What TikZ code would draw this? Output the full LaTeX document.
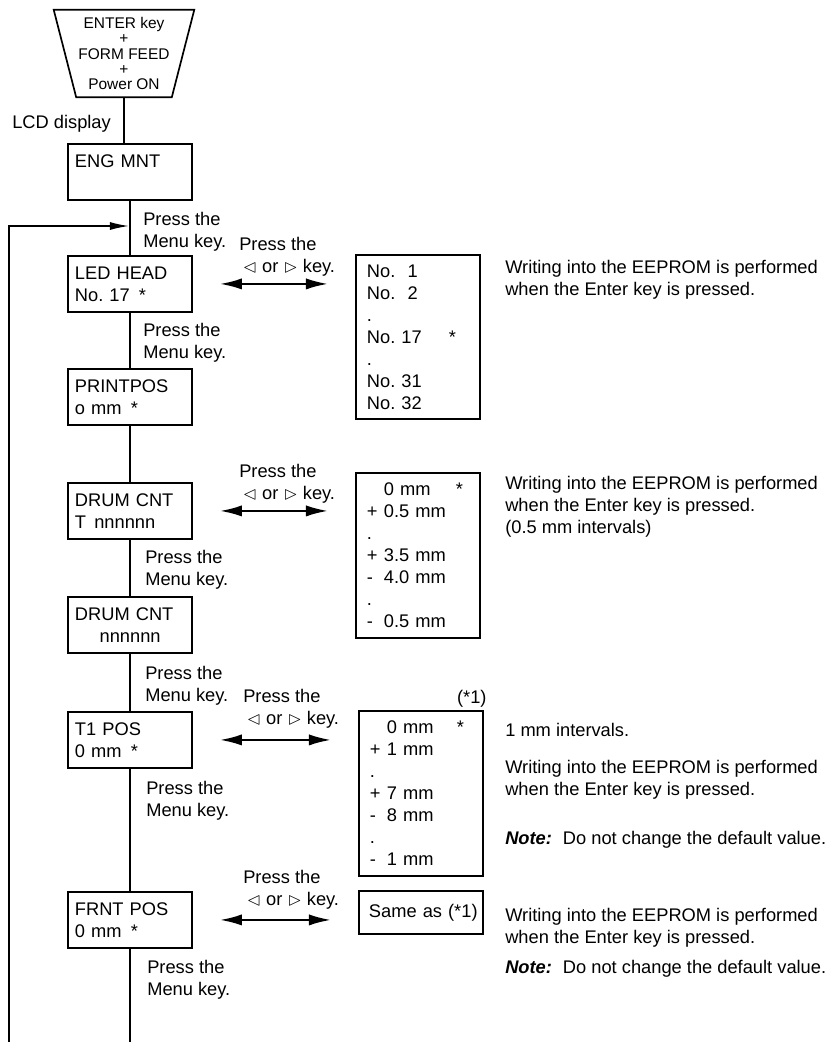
\documentclass[tikz,border=0pt]{standalone}
\usepackage{amssymb}
\usepackage{fontspec}
\setmainfont{Liberation Sans}
\usetikzlibrary{shapes.geometric, arrows.meta, positioning}
\tikzset{
  entry/.style = {rectangle, align=center, inner sep=0pt, minimum width=3.5cm, minimum height=2.175cm, font=\fontsize{11}{10.7}\selectfont},
  screen/.style = {rectangle, draw=black, line width=1.3pt, anchor=north west, align=left, text width=2.75cm, inner xsep=0.175cm, inner ysep=1pt, minimum height=1.4cm},
  values/.style = {rectangle, draw=black, line width=1.3pt, anchor=north west, align=left, text width=2.55cm, inner xsep=0.275cm, inner ysep=1pt, minimum height=4.1cm},
  hint/.style = {anchor=north west, inner sep=0pt, align=left},
  link/.style = {line width=1pt},
  lrarrow/.style = {{Latex[length=0.55cm,width=0.28cm]}-{Latex[length=0.55cm,width=0.28cm]}, line width=1.6pt, shorten <=0.675cm, shorten >=0.675cm}
}
\newcommand{\dflt}{\hspace{0.5em}*}
\newcommand{\sgn}[1]{\makebox[0.425cm][l]{#1}}
\newcommand{\lrkey}{\hspace*{0.2em}$\lhd$ or $\rhd$ key.}
\frenchspacing

\begin{document}
\begin{tikzpicture}[x=0.025cm, y=-0.025cm, font=\fontsize{13}{15.65}\selectfont]
\useasboundingbox (0,0) rectangle (828,1042);

% Start and LCD screens
\node[entry] (start) at (124,53.5) {ENTER key\\+\\FORM FEED\\+\\Power ON};
\draw[line width=1.2pt] (start.north west) -- (start.north east) -- ([xshift=-0.5625cm]start.south east) -- ([xshift=0.5625cm]start.south west) -- cycle;
\node[hint] (lcd) at (12,115) {LCD display};

\node[screen] (eng) at (67,143) {ENG MNT\\\mbox{}};
\node[screen] (led) at (67,255) {LED HEAD\\No. 17\dflt};
\node[screen] (pos) at (67,368) {PRINTPOS\\o mm\dflt};
\node[screen] (drumt) at (67,482) {DRUM CNT\\T\hspace{0.45em}nnnnnn};
\node[screen] (drum) at (67,596) {DRUM CNT\\\hspace*{1.35em}nnnnnn};
\node[screen] (tpos) at (67,711) {T1 POS\\0 mm\dflt};
\node[screen] (frnt) at (67,891) {FRNT POS\\0 mm\dflt};

% Menu key hints
\node[hint] (menu0) at (143,212) {Press the\\Menu key.};
\node[hint] (menu1) at (143,323) {Press the\\Menu key.};
\node[hint] (menu2) at (145,550) {Press the\\Menu key.};
\node[hint] (menu3) at (145,666) {Press the\\Menu key.};
\node[hint] (menu4) at (146,781) {Press the\\Menu key.};
\node[hint] (menu5) at (147,960) {Press the\\Menu key.};

% Arrow key hints
\node[hint] (key1) at (239,237) {Press the\\\lrkey};
\node[hint] (key2) at (239,464) {Press the\\\lrkey};
\node[hint] (key3) at (243,689) {Press the\\\lrkey};
\node[hint] (key4) at (243,870) {Press the\\\lrkey};

% Value lists
\node[values] (vals1) at (355,254) {No.\ \ 1\\No.\ \ 2\\.\\\makebox[2.05cm][l]{No. 17}*\\.\\No. 31\\No. 32};
\node[values, minimum height=4.125cm] (vals2) at (355,472) {\sgn{}\makebox[1.8cm][l]{0 mm}*\\\sgn{+}0.5 mm\\.\\\sgn{+}3.5 mm\\\sgn{-}4.0 mm\\.\\\sgn{-}0.5 mm};
\node[values, minimum height=4.125cm] (vals3) at (358,710) {\sgn{}\makebox[1.75cm][l]{0 mm}*\\\sgn{+}1 mm\\.\\\sgn{+}7 mm\\\sgn{-}8 mm\\.\\\sgn{-}1 mm};
\node[anchor=base east, inner sep=0pt] (ref1) at ([xshift=0.075cm,yshift=0.175cm]vals3.north east) {(*1)};
\node[values, minimum height=1.075cm, text width=2.8cm, inner xsep=0.15cm] (vals4) at (358,890) {\hspace*{0.1cm}\mbox{Same as (*1)}};

% Notes
\node[hint] (note1) at (505,260) {Writing into the EEPROM is performed\\when the Enter key is pressed.};
\node[hint] (note2) at (505,476) {Writing into the EEPROM is performed\\when the Enter key is pressed.\\(0.5 mm intervals)};
\node[hint] (note3) at (505,723) {1 mm intervals.};
\node[hint] (note4) at (505,760) {Writing into the EEPROM is performed\\when the Enter key is pressed.};
\node[hint] (note5) at (505,831) {\textbf{\textit{Note:}}\hspace{0.6em}Do not change the default value.};
\node[hint] (note6) at (505,908) {Writing into the EEPROM is performed\\when the Enter key is pressed.};
\node[hint] (note7) at (505,960) {\textbf{\textit{Note:}}\hspace{0.6em}Do not change the default value.};

% Main line
\coordinate (loopbot) at (9,1042);
\coordinate (loopin) at (129,226);
\draw[link] (start.south) -- (start.south |- eng.north);
\draw[link] (eng.south) -- (led.north);
\draw[link] (led.south) -- (pos.north);
\draw[link] (pos.south) -- (drumt.north);
\draw[link] (drumt.south) -- (drum.north);
\draw[link] (drum.south) -- (tpos.north);
\draw[link] (tpos.south) -- (frnt.north);
\draw[link] (frnt.south) -- (frnt.south |- loopbot);
\draw[link, -{Latex[length=0.475cm,width=0.2cm]}] (loopbot) |- (loopin);

% Left/right key arrows
\draw[lrarrow] (led.east) -- (led.east -| vals1.west);
\draw[lrarrow] (drumt.east) -- (drumt.east -| vals2.west);
\draw[lrarrow] (tpos.east) -- (tpos.east -| vals3.west);
\draw[lrarrow] (frnt.east) -- (frnt.east -| vals4.west);

\end{tikzpicture}
\end{document}
